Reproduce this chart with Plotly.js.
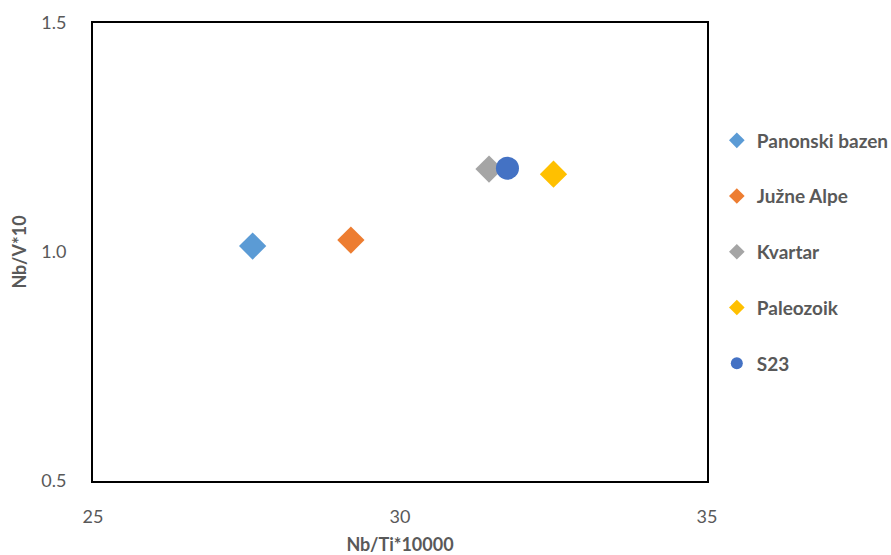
<!DOCTYPE html>
<html>
<head>
<meta charset="utf-8">
<script src="https://cdn.plot.ly/plotly-3.0.1.min.js"></script>
<style>html,body{margin:0;padding:0;background:#fff;}#chart{width:891px;height:555px;}</style>
</head>
<body>
<div id="chart"></div>
<script>
const seriesNames = ["Panonski bazen", "Južne Alpe", "Kvartar", "Paleozoik", "S23"];
const xValues = [27.6, 29.2, 31.45, 32.5, 31.75];
const yValues = [1.013, 1.026, 1.181, 1.170, 1.183];
const colors = ["#5B9BD5", "#ED7D31", "#A5A5A5", "#FFC000", "#4472C4"];
const symbols = ["diamond", "diamond", "diamond", "diamond", "circle"];
const sizes = [21, 21, 21, 21, 23];
const xTicks = [25, 30, 35];
const yTicks = [0.5, 1.0, 1.5];

const traces = seriesNames.map((name, i) => ({
  type: "scatter",
  mode: "markers",
  name: name,
  legendgroup: "g" + i,
  x: [xValues[i]],
  y: [yValues[i]],
  marker: { color: colors[i], symbol: symbols[i], size: sizes[i], line: { width: 0 } }
}));

const font = "Lato, 'Open Sans', sans-serif";
const layout = {
  width: 891, height: 555,
  margin: { l: 93, r: 184, t: 23, b: 74, autoexpand: false },
  paper_bgcolor: "#fff", plot_bgcolor: "#fff",
  font: { family: font, color: "#595959" },
  showlegend: true,
  legend: {
    x: 1.016, xanchor: "left", y: 0.50, yanchor: "middle",
    bgcolor: "rgba(0,0,0,0)",
    font: { family: font, size: 19, color: "#595959", weight: "bold" },
    itemsizing: "constant",
    tracegroupgap: 28,
    traceorder: "grouped"
  },
  xaxis: {
    range: [25, 35], tickvals: xTicks, ticktext: xTicks.map(String),
    showgrid: false, zeroline: false,
    showline: true, mirror: true, linecolor: "#000", linewidth: 2,
    ticks: "", tickfont: { family: font, size: 18, color: "#595959" },
    ticklabelstandoff: 18,
    title: { text: "Nb/Ti*10000", font: { family: font, size: 18, color: "#595959", weight: "bold" }, standoff: 13 }
  },
  yaxis: {
    range: [0.5, 1.5], tickvals: yTicks, ticktext: yTicks.map(v => v.toFixed(1)),
    showgrid: false, zeroline: false,
    showline: true, mirror: true, linecolor: "#000", linewidth: 2,
    ticks: "", tickfont: { family: font, size: 18, color: "#595959" },
    ticklabelstandoff: 21,
    title: { text: "Nb/V*10", font: { family: font, size: 18, color: "#595959", weight: "bold" }, standoff: 10 }
  }
};
Plotly.newPlot("chart", traces, layout, { displayModeBar: false, staticPlot: true });
</script>
</body>
</html>
